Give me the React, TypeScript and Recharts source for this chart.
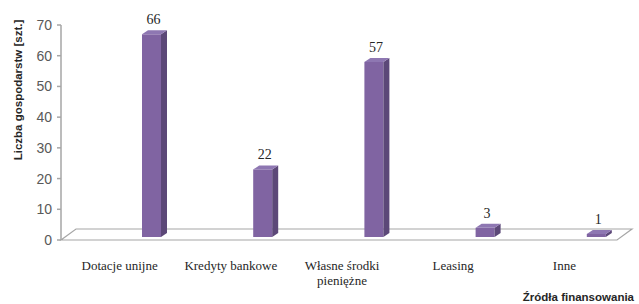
import React from 'react';
import { BarChart, Bar, XAxis, YAxis, Label } from 'recharts';

const categories = ['Dotacje unijne', 'Kredyty bankowe', 'Własne środki\npieniężne', 'Leasing', 'Inne'];
const counts = [66, 22, 57, 3, 1];
const yTicks = [0, 10, 20, 30, 40, 50, 60, 70];
const yTitle = 'Liczba gospodarstw [szt.]';
const xTitle = 'Źródła finansowania';

const data = categories.map((c, i) => ({ name: c, value: counts[i] }));

const WIDTH = 639;
const HEIGHT = 304;
const MARGIN = { top: 25, right: 22, bottom: 0, left: 0 };
const Y_AXIS_W = 61;
const PLOT_LEFT = MARGIN.left + Y_AXIS_W;
const PLOT_RIGHT = WIDTH - MARGIN.right;

const DX = 35;
const DEPTH_X = 6;
const DEPTH_Y = 4;
const LIFT = 3;
const FRONT = '#8064A2';
const SIDE = '#5C4878';
const TOP = '#8E77B2';
const GRID = '#A6A6A6';

function Bar3D(props: any) {
  const { x, y, width, height, value } = props;
  const fx = x + DX;
  const fy = y - LIFT;
  const fw = width;
  const fh = Math.max(height, 1);
  const side = `${fx + fw},${fy} ${fx + fw + DEPTH_X},${fy - DEPTH_Y} ${fx + fw + DEPTH_X},${fy + fh - DEPTH_Y} ${fx + fw},${fy + fh}`;
  const top = `${fx},${fy} ${fx + DEPTH_X},${fy - DEPTH_Y} ${fx + fw + DEPTH_X},${fy - DEPTH_Y} ${fx + fw},${fy}`;
  return (
    <g>
      <rect x={fx} y={fy} width={fw} height={fh} fill={FRONT} />
      <polygon points={side} fill={SIDE} />
      <polygon points={top} fill={TOP} />
      <text
        x={fx + fw / 2 + 2}
        y={fy - DEPTH_Y - 6}
        textAnchor="middle"
        fontFamily="'Liberation Serif', serif"
        fontSize={14}
        fill="#262626"
      >
        {value}
      </text>
    </g>
  );
}

function FloorBackground(props: any) {
  const { y, height, index } = props;
  if (index !== 0) return <g />;
  const y0 = y + height;
  const d = 15;
  const h = 11;
  const pts = `${PLOT_LEFT},${y0} ${PLOT_RIGHT},${y0} ${PLOT_RIGHT + d},${y0 - h} ${PLOT_LEFT + d},${y0 - h}`;
  return <polygon points={pts} fill="#ffffff" stroke={GRID} strokeWidth={1.2} />;
}

function XTick(props: any) {
  const { x, y, payload } = props;
  const lines = String(payload.value).split('\n');
  return (
    <g>
      {lines.map((l: string, i: number) => (
        <text
          key={i}
          x={x + 3}
          y={y + 22 + i * 15}
          textAnchor="middle"
          fontFamily="'Liberation Serif', serif"
          fontSize={13}
          fill="#262626"
        >
          {l}
        </text>
      ))}
    </g>
  );
}

function YTick(props: any) {
  const { x, y, payload } = props;
  return (
    <text
      x={x - 3}
      y={y + 5}
      textAnchor="end"
      fontFamily="'Liberation Sans', sans-serif"
      fontSize={14}
      fill="#595959"
    >
      {payload.value}
    </text>
  );
}

export default function App() {
  return (
    <div style={{ position: 'fixed', left: 0, top: 0, width: WIDTH, height: HEIGHT, background: '#fff' }}>
      <BarChart width={WIDTH} height={HEIGHT} data={data} margin={MARGIN} barSize={19}>
        <XAxis dataKey="name" axisLine={false} tickLine={false} height={64} tick={XTick} interval={0}>
          <Label
            content={() => (
              <text
                x={634}
                y={301}
                textAnchor="end"
                fontFamily="'Liberation Sans', sans-serif"
                fontWeight="bold"
                fontSize={11.5}
                fill="#262626"
              >
                {xTitle}
              </text>
            )}
          />
        </XAxis>
        <YAxis
          width={Y_AXIS_W}
          domain={[0, 70]}
          ticks={yTicks}
          interval={0}
          axisLine={{ stroke: GRID, strokeWidth: 1.5 }}
          tickLine={{ stroke: GRID, strokeWidth: 1.5 }}
          tickSize={4}
          tick={YTick}
        >
          <Label
            content={() => (
              <text
                x={0}
                y={0}
                transform="translate(22, 90) rotate(-90)"
                textAnchor="middle"
                fontFamily="'Liberation Sans', sans-serif"
                fontWeight="bold"
                fontSize={11.5}
                fill="#262626"
              >
                {yTitle}
              </text>
            )}
          />
        </YAxis>
        <Bar dataKey="value" shape={Bar3D} background={FloorBackground} isAnimationActive={false} />
      </BarChart>
    </div>
  );
}
